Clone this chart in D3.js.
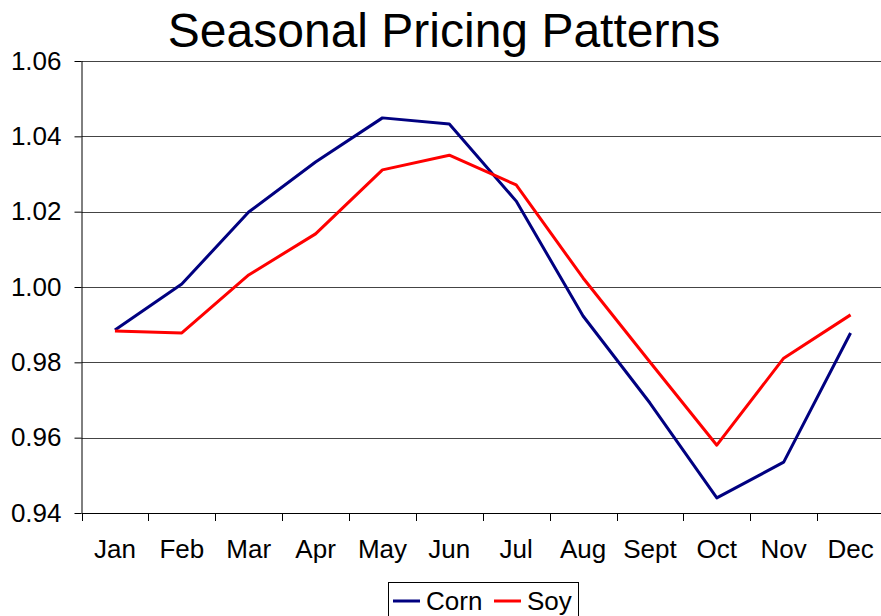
<!DOCTYPE html>
<html><head><meta charset="utf-8">
<script src="https://cdn.jsdelivr.net/npm/d3@7"></script>
<style>body{margin:0;background:#fff;overflow:hidden}svg{display:block;font-family:"Liberation Sans",Arial,sans-serif}</style>
</head><body><svg id="c" width="881" height="616"></svg>
<script>
const months = ["Jan","Feb","Mar","Apr","May","Jun","Jul","Aug","Sept","Oct","Nov","Dec"];
const corn = [0.9886,1.0008,1.0199,1.0332,1.0449,1.0433,1.0228,0.9923,0.9692,0.9440,0.9535,0.9878];
const soy  = [0.9883,0.9878,1.0032,1.0141,1.0311,1.0350,1.0271,1.0024,0.9801,0.9580,0.9811,0.9926];
const yTicks = [0.94,0.96,0.98,1.00,1.02,1.04,1.06];
const title = "Seasonal Pricing Patterns";

const svg = d3.select("#c");
const L = 81.5, R = 884, T = 61, B = 513;
const x = d3.scaleBand().domain(months).range([L, R]);
const y = d3.scaleLinear().domain([0.94, 1.06]).range([B, T]);

svg.append("text").attr("x", 444).attr("y", 47).attr("text-anchor","middle")
  .attr("font-size", 48).text(title);

// gridlines
svg.append("g").selectAll("line").data(yTicks.slice(1)).join("line")
  .attr("x1", L).attr("x2", R).attr("y1", d => Math.round(y(d))+0.5).attr("y2", d => Math.round(y(d))+0.5)
  .attr("stroke", "#444").attr("stroke-width", 1);

// y axis
const ya = svg.append("g").attr("transform", `translate(${L},0)`)
  .call(d3.axisLeft(y).tickValues(yTicks).tickFormat(d3.format(".2f")).tickSize(7).tickPadding(13));
ya.select(".domain").attr("stroke","#000").attr("d", `M0.5,${T}V${B}`);
ya.selectAll("text").attr("font-size", 26).attr("fill","#000").attr("font-family","Liberation Sans, Arial, sans-serif");
ya.selectAll(".tick line").attr("stroke","#000");

// x axis
const xa = svg.append("g").attr("transform", `translate(0,${B})`)
  .call(d3.axisBottom(x).tickSize(0).tickPadding(0));
xa.select(".domain").remove();
xa.selectAll("text").attr("font-size", 26).attr("fill","#000").attr("dy", null).attr("y", 45)
  .attr("font-family","Liberation Sans, Arial, sans-serif");
svg.append("line").attr("x1", L).attr("x2", R).attr("y1", B+0.5).attr("y2", B+0.5).attr("stroke","#000");
svg.append("g").selectAll("line").data(months).join("line")
  .attr("x1", d => Math.round(x(d))+0.5).attr("x2", d => Math.round(x(d))+0.5)
  .attr("y1", B).attr("y2", B+8).attr("stroke","#000");

const line = d3.line().x((d,i) => x(months[i]) + x.bandwidth()/2).y(d => y(d));
svg.append("path").datum(corn).attr("d", line).attr("fill","none").attr("stroke","#000080").attr("stroke-width",3).attr("stroke-linejoin","round");
svg.append("path").datum(soy).attr("d", line).attr("fill","none").attr("stroke","#ff0000").attr("stroke-width",3).attr("stroke-linejoin","round");

// legend
const lg = svg.append("g");
lg.append("rect").attr("x", 388.5).attr("y", 582.5).attr("width", 190).attr("height", 40).attr("fill","#fff").attr("stroke","#000");
const items = [{n:"Corn", c:"#000080", x:393},{n:"Soy", c:"#ff0000", x:494}];
items.forEach(it => {
  lg.append("line").attr("x1", it.x).attr("x2", it.x+27).attr("y1", 601).attr("y2", 601).attr("stroke", it.c).attr("stroke-width",3);
  lg.append("text").attr("x", it.x+33).attr("y", 610).attr("font-size", 26).text(it.n);
});
</script></body></html>
